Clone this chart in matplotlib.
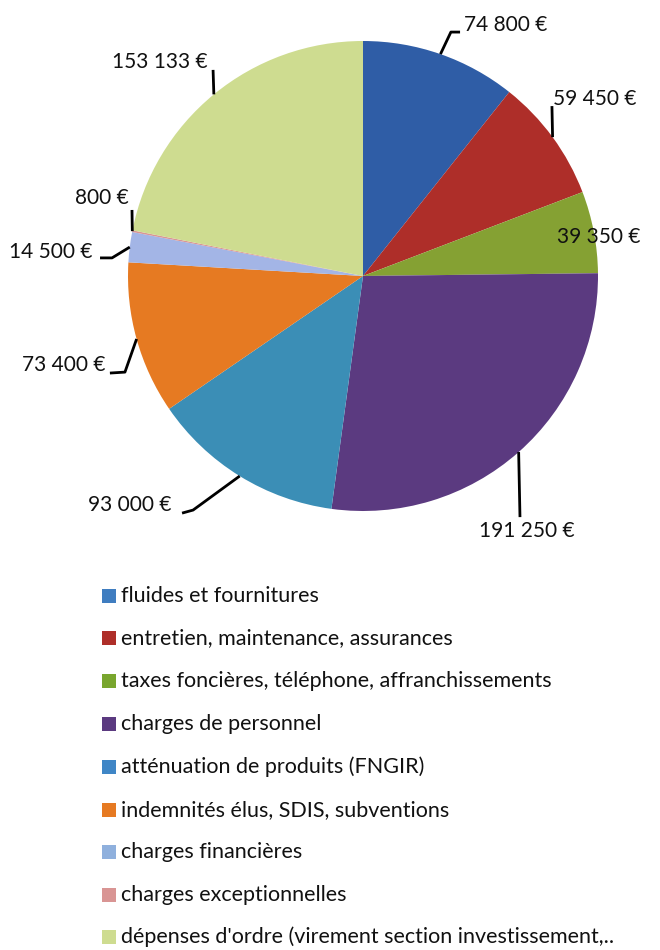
import matplotlib.pyplot as plt
from matplotlib.patches import Rectangle
import numpy as np

# budget data (fonctionnement)
categories = ["fluides et fournitures",
              "entretien, maintenance, assurances",
              "taxes foncières, téléphone, affranchissements",
              "charges de personnel",
              "atténuation de produits (FNGIR)",
              "indemnités élus, SDIS, subventions",
              "charges financières",
              "charges exceptionnelles",
              "dépenses d'ordre (virement section investissement,.."]
values = [74800, 59450, 39350, 191250, 93000, 73400, 14500, 800, 153133]
value_labels = ["74 800 €", "59 450 €", "39 350 €", "191 250 €", "93 000 €",
                "73 400 €", "14 500 €", "800 €", "153 133 €"]

slice_colors = ["#2F5DA6", "#AE2E29", "#85A133", "#5B3A80", "#3B8EB6",
                "#E67A22", "#A3B5E6", "#D99594", "#CEDC90"]
legend_colors = ["#3F7DC0", "#AE2E29", "#79A62E", "#5B3A80", "#3F86C6",
                 "#E67A22", "#8FB0DD", "#D99594", "#CEDC90"]

# leader line elbows / ends and text anchors (data units, radius = 1)
leader_pts = [[(0.374, 1.038), (0.413, 1.038)],
              [(0.804, 0.723)],
              [],
              [(0.668, -1.026)],
              [(-0.723, -0.996), (-0.770, -1.009)],
              [(-1.013, -0.409), (-1.077, -0.413)],
              [(-1.068, 0.077), (-1.119, 0.077)],
              [(-0.983, 0.281)],
              [(-0.638, 0.877)]]
text_pos = [(0.430, 1.070, "left"), (0.808, 0.753, "left"), (1.004, 0.166, "center"),
            (0.698, -1.087, "center"), (-0.815, -0.974, "right"), (-1.096, -0.379, "right"),
            (-1.151, 0.102, "right"), (-0.998, 0.332, "right"), (-0.662, 0.911, "right")]

plt.rcParams['font.family'] = ['Lato', 'DejaVu Sans']

fig = plt.figure(figsize=(6.6, 9.5), dpi=100)
ax = fig.add_axes([0, 1 - 600 / 950, 1, 600 / 950])
wedges, _ = ax.pie(values, colors=slice_colors, startangle=90, counterclock=False,
                   wedgeprops=dict(linewidth=0))
ax.set_xlim(-363 / 235, (660 - 363) / 235)
ax.set_ylim((276 - 600) / 235, 276 / 235)
ax.set_aspect('auto')
ax.axis('off')

for w, pts, (tx, ty, ha), lab in zip(wedges, leader_pts, text_pos, value_labels):
    mid = np.deg2rad((w.theta1 + w.theta2) / 2)
    if pts:
        xs = [np.cos(mid)] + [p[0] for p in pts]
        ys = [np.sin(mid)] + [p[1] for p in pts]
        ax.plot(xs, ys, color="black", lw=2, solid_capstyle="butt")
    ax.text(tx, ty, lab, ha=ha, va="center", fontsize=15, color="#111111")

# legend
row_y = [596, 638, 681, 724, 767, 810, 852, 895, 937]
for y, c, name in zip(row_y, legend_colors, categories):
    fig.add_artist(Rectangle((102 / 660, 1 - (y + 7) / 950), 14 / 660, 14 / 950,
                             transform=fig.transFigure, color=c, lw=0))
    fig.text(121 / 660, 1 - y / 950, name, ha="left", va="center",
             fontsize=15.5, color="#111111")

fig.savefig("out.png", dpi=100)
